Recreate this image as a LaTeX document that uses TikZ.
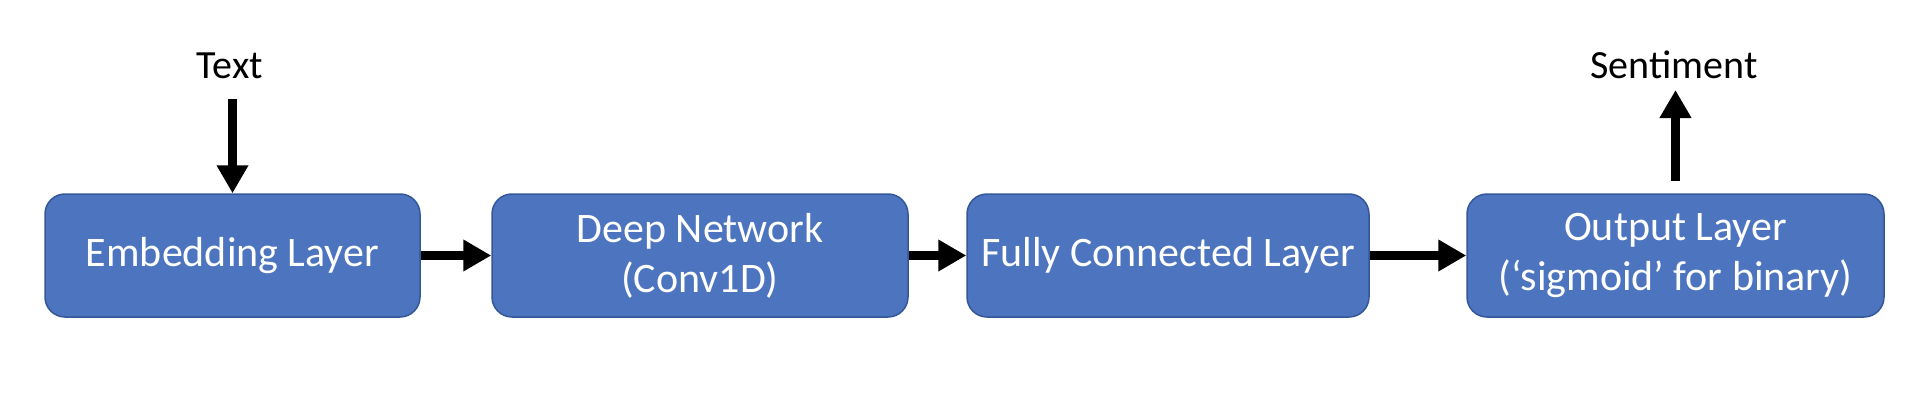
\documentclass[tikz,border=0pt]{standalone}
\usepackage{fontspec}
\setmainfont{Carlito}
\usetikzlibrary{arrows.meta}
\definecolor{boxfill}{HTML}{4C74BF}
\definecolor{boxline}{HTML}{34579A}
\tikzset{
  layerbox/.style={rectangle, rounded corners=20pt, fill=boxfill, draw=boxline,
    line width=1.5pt, minimum height=123pt, text=white, align=center,
    font=\fontsize{42}{50}\selectfont, inner sep=0pt},
  flowarrow/.style={line width=9pt, -{Triangle[length=28pt,width=30pt]}},
  lbl/.style={font=\fontsize{40}{48}\selectfont, anchor=base, inner sep=0pt}
}
\begin{document}
\begin{tikzpicture}[x=1pt,y=-1pt]
\useasboundingbox (0,0) rectangle (1928,404);
\node[layerbox, minimum width=375pt] (emb) at (232.5,255.5) {Embedding Layer};
\node[layerbox, minimum width=416pt] (deep) at (700,255.5) {Deep Network\\(Conv1D)};
\node[layerbox, minimum width=402pt] (fc) at (1168,255.5) {Fully Connected Layer};
\node[layerbox, minimum width=417pt] (out) at (1675.5,255.5) {Output Layer\\(‘sigmoid’ for binary)};
\node[lbl] (txt) at (230,78) {Text};
\node[lbl] (sent) at (1674,78) {Sentiment};
\coordinate (tin) at (232.5,99);
\coordinate (sout) at (1675.5,90);
\coordinate (sbase) at (1675.5,181);
\draw[flowarrow] (tin) -- (emb.north);
\draw[flowarrow] (emb.east) -- (deep.west);
\draw[flowarrow] (deep.east) -- (fc.west);
\draw[flowarrow] (fc.east) -- (out.west);
\draw[flowarrow] (sbase) -- (sout);
\end{tikzpicture}
\end{document}
